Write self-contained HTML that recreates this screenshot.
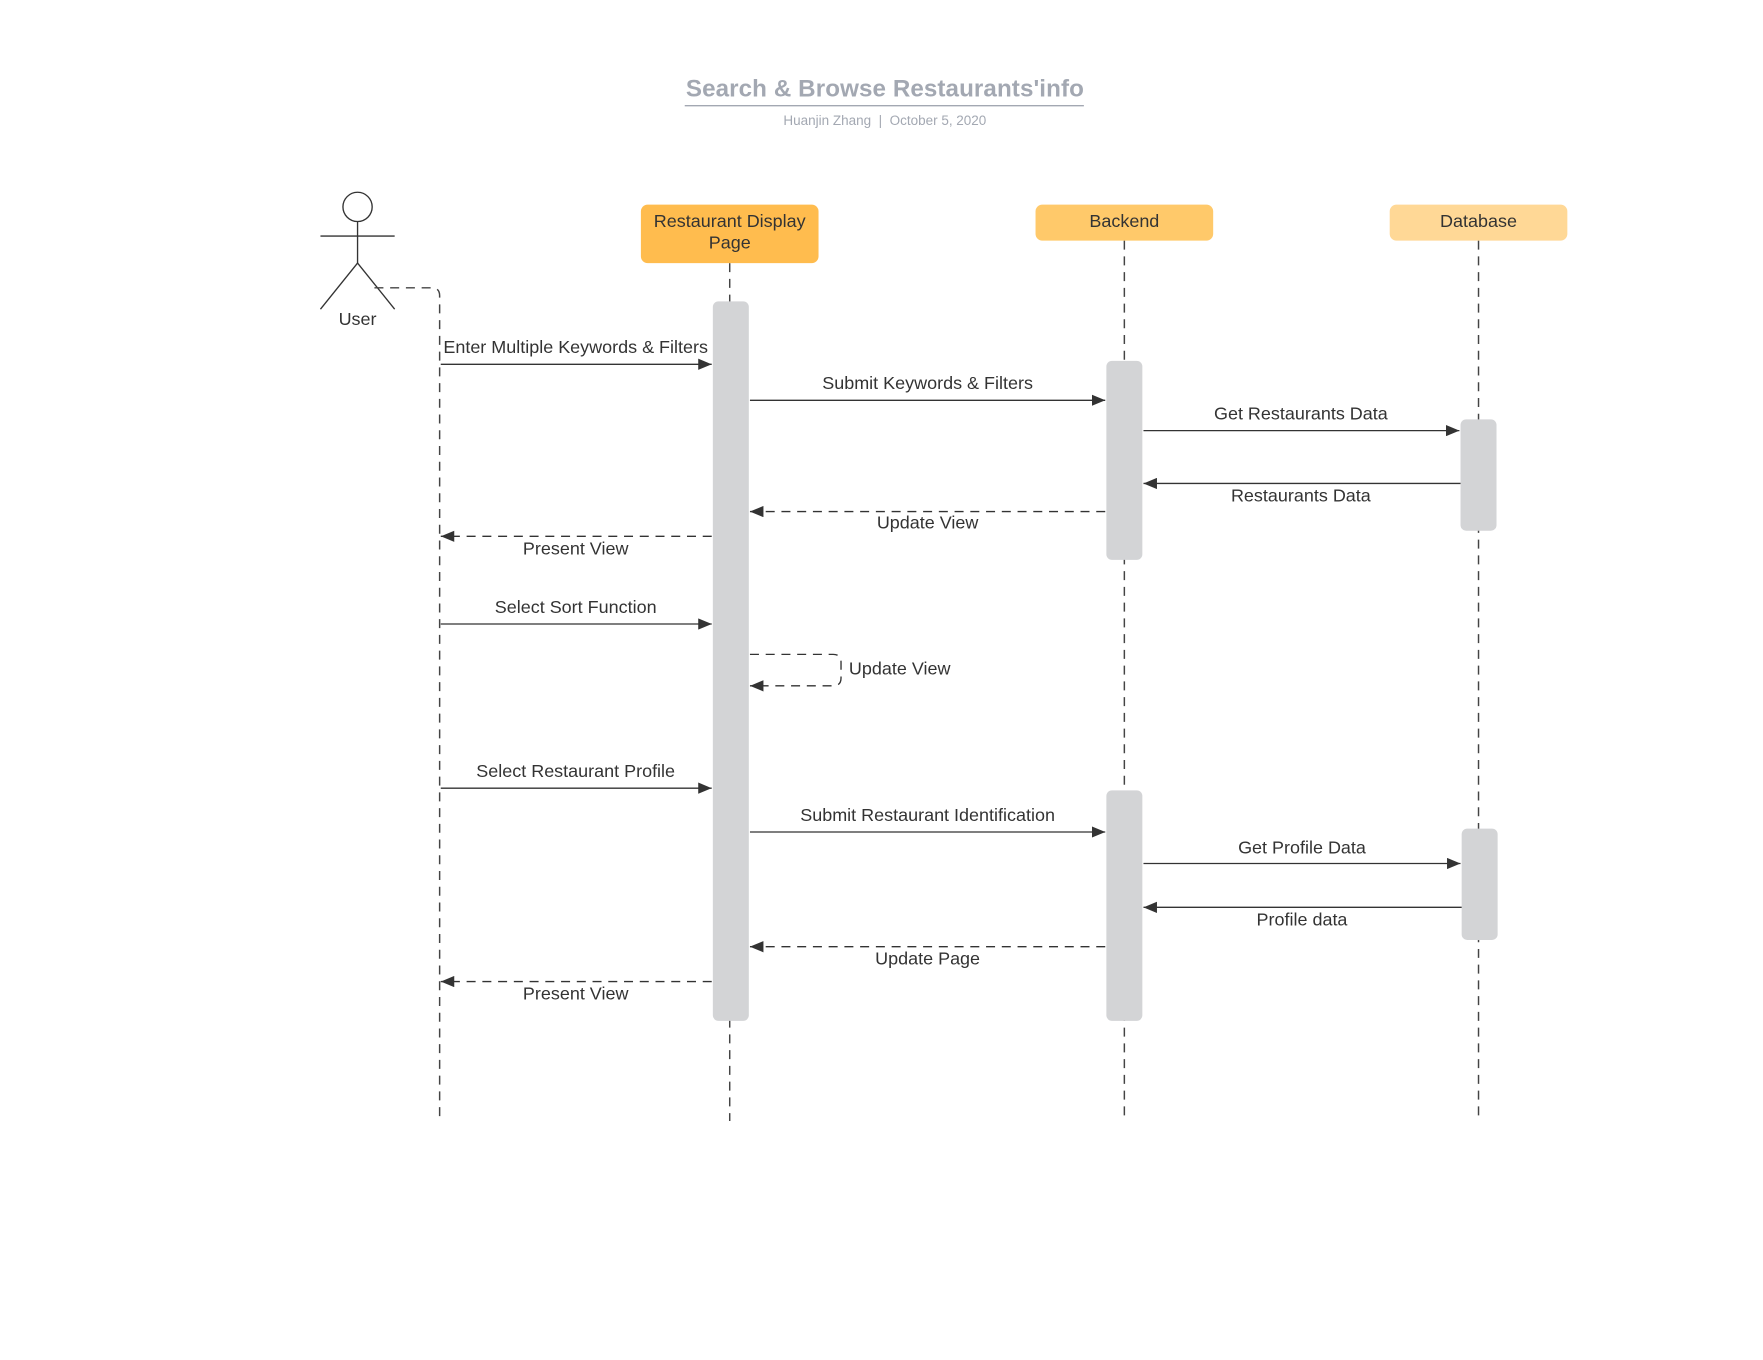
<!DOCTYPE html>
<html><head><meta charset="utf-8"><style>html,body{margin:0;padding:0;background:#fff}svg{display:block}</style></head>
<body>
<svg width="1763" height="1360" viewBox="0 0 1568 1209.6" xmlns="http://www.w3.org/2000/svg" font-family="Liberation Sans, sans-serif">
<defs>
<marker id="a" markerWidth="12" markerHeight="10" refX="12" refY="5" orient="auto" markerUnits="userSpaceOnUse"><path d="M0,0 L12,5 L0,10 z" fill="#333"/></marker>
</defs>
<rect width="1568" height="1210" fill="#fff"/>
<text x="787" y="86" text-anchor="middle" font-size="21.5" font-weight="bold" fill="#a3a8b2" textLength="354">Search &amp; Browse Restaurants'info</text>
<line x1="609" y1="94" x2="964" y2="94" stroke="#a3a8b2" stroke-width="1.2"/>
<text x="787" y="111" text-anchor="middle" font-size="12" fill="#a3a8b2">Huanjin Zhang &#160;|&#160; October 5, 2020</text>

<g stroke="#333" stroke-width="1.2" fill="none">
<circle cx="318" cy="184" r="13"/>
<line x1="318" y1="197" x2="318" y2="234"/>
<line x1="285" y1="210" x2="351" y2="210"/>
<line x1="318" y1="234" x2="285" y2="275"/>
<line x1="318" y1="234" x2="351" y2="275"/>
</g>
<text x="318" y="289" text-anchor="middle" font-size="16" fill="#333">User</text>

<g stroke="#444" stroke-width="1.3" fill="none" stroke-dasharray="8,6">
<path d="M333,256 H384 Q391,256 391,263 V997"/>
<line x1="649" y1="234" x2="649" y2="997"/>
<line x1="1000" y1="214" x2="1000" y2="997"/>
<line x1="1315" y1="214" x2="1315" y2="997"/>
</g>

<rect x="570" y="182" width="158" height="52" rx="6" fill="#FFBC4E"/>
<text x="649" y="202" text-anchor="middle" font-size="16" fill="#333">Restaurant Display</text>
<text x="649" y="221" text-anchor="middle" font-size="16" fill="#333">Page</text>
<rect x="921" y="182" width="158" height="32" rx="6" fill="#FFC96A"/>
<text x="1000" y="202" text-anchor="middle" font-size="16" fill="#333">Backend</text>
<rect x="1236" y="182" width="158" height="32" rx="6" fill="#FFD896"/>
<text x="1315" y="202" text-anchor="middle" font-size="16" fill="#333">Database</text>

<g fill="#D3D4D6">
<rect x="634" y="268" width="32" height="640" rx="5"/>
<rect x="984" y="321" width="32" height="177" rx="5"/>
<rect x="984" y="703" width="32" height="205" rx="5"/>
<rect x="1299" y="373" width="32" height="99" rx="5"/>
<rect x="1300" y="737" width="32" height="99" rx="5"/>
</g>

<g stroke="#333" stroke-width="1.2" fill="none" marker-end="url(#a)">
<line x1="392" y1="324" x2="633" y2="324"/>
<line x1="667" y1="356" x2="983" y2="356"/>
<line x1="1017" y1="383" x2="1298" y2="383"/>
<line x1="1299" y1="430" x2="1017" y2="430"/>
<line x1="983" y1="455" x2="667" y2="455" stroke-dasharray="8,6"/>
<line x1="633" y1="477" x2="392" y2="477" stroke-dasharray="8,6"/>
<line x1="392" y1="555" x2="633" y2="555"/>
<path d="M667,582 H741 Q748,582 748,589 V603 Q748,610 741,610 H667" stroke-dasharray="8,6"/>
<line x1="392" y1="701" x2="633" y2="701"/>
<line x1="667" y1="740" x2="983" y2="740"/>
<line x1="1017" y1="768" x2="1299" y2="768"/>
<line x1="1300" y1="807" x2="1017" y2="807"/>
<line x1="983" y1="842" x2="667" y2="842" stroke-dasharray="8,6"/>
<line x1="633" y1="873" x2="392" y2="873" stroke-dasharray="8,6"/>
</g>

<g font-size="16" fill="#333" text-anchor="middle">
<text x="512" y="314">Enter Multiple Keywords &amp; Filters</text>
<text x="825" y="346">Submit Keywords &amp; Filters</text>
<text x="1157" y="373">Get Restaurants Data</text>
<text x="1157" y="446">Restaurants Data</text>
<text x="825" y="470">Update View</text>
<text x="512" y="493">Present View</text>
<text x="512" y="545">Select Sort Function</text>
<text x="755" y="600" text-anchor="start">Update View</text>
<text x="512" y="691">Select Restaurant Profile</text>
<text x="825" y="730">Submit Restaurant Identification</text>
<text x="1158" y="759">Get Profile Data</text>
<text x="1158" y="823">Profile data</text>
<text x="825" y="858">Update Page</text>
<text x="512" y="889">Present View</text>
</g>
</svg>
</body></html>
